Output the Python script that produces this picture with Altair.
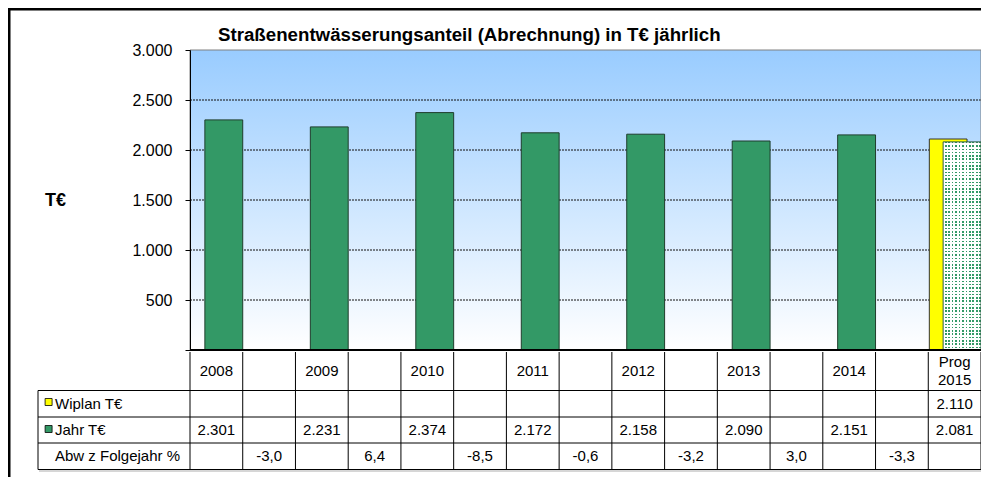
import altair as alt
import pandas as pd

# ---------------- data ----------------
title_text = "Straßenentwässerungsanteil (Abrechnung) in T€ jährlich"
y_title = "T€"
years = ["2008", "2009", "2010", "2011", "2012", "2013", "2014", "Prog\n2015"]
jahr = [2301, 2231, 2374, 2172, 2158, 2090, 2151, 2081]
wiplan = [None, None, None, None, None, None, None, 2110]
abw = [-3.0, 6.4, -8.5, -0.6, -3.2, 3.0, -3.3]
row_labels = ["Wiplan T€", "Jahr T€", "Abw z Folgejahr %"]
y_ticks = [0, 500, 1000, 1500, 2000, 2500, 3000]
grid_vals = [500, 1000, 1500, 2000, 2500]

# ---------------- layout / style ----------------
N_COLS = 2 * len(years) - 1
W, H = 791, 300
PAD_L, PAD_T = 182, 42
SVG_W, SVG_H = 973, 469
FONT = "Liberation Sans"
FS = 15
GREEN = "#339966"
YELLOW = "#FFFF00"
BAR_STROKE = "#1f3d2c"
ROW_Y = [354, 380, 406]
HEAD_Y = 321


def de_int(v):
    return f"{v:,}".replace(",", ".")


def de_dec(v):
    return f"{v:.1f}".replace(".", ",")


xs = alt.Scale(domain=[0, N_COLS], nice=False, zero=False)
ys = alt.Scale(domain=[0, 3000], nice=False)
yaxis = alt.Axis(
    values=y_ticks,
    labelExpr="datum.value == 0 ? '' : replace(format(datum.value, ','), ',', '.')",
    title=None, grid=False, domainColor="black", tickColor="black",
    tickSize=5, labelPadding=13, labelFont=FONT, labelFontSize=16,
    labelColor="black", zindex=1, domainWidth=1, tickWidth=1,
)


def X(f):
    return alt.X(f, scale=xs, axis=None)


def Y(f):
    return alt.Y(f, scale=ys, axis=yaxis)


one = pd.DataFrame({"a": [0]})

# background gradient
bg = alt.Chart(one).mark_rect(
    fill=alt.LinearGradient(
        gradient="linear",
        stops=[alt.GradientStop(color="#99CCFF", offset=0),
               alt.GradientStop(color="#FFFFFF", offset=1)],
        x1=0, x2=0, y1=0, y2=1,
    )
).encode(x=alt.value(0), x2=alt.value(W), y=alt.value(0), y2=alt.value(H))

grid = alt.Chart(pd.DataFrame({"value": grid_vals})).mark_rule(
    color="#111111", strokeDash=[2, 1], strokeWidth=1
).encode(y=Y("value:Q"))

border = alt.Chart(one).mark_rect(
    fillOpacity=0, stroke="#808080", strokeWidth=1
).encode(x=alt.value(0), x2=alt.value(W), y=alt.value(0), y2=alt.value(H))

# bars
n_act = len(years) - 1
act = pd.DataFrame({
    "x0": [2 * i + 0.282 for i in range(n_act)],
    "x1": [2 * i + 1.0 for i in range(n_act)],
    "value": jahr[:n_act],
    "base": [0] * n_act,
})
fc_col = 2 * (len(years) - 1)
fc = pd.DataFrame({"x0": [fc_col + 0.282], "x1": [fc_col + 1.0],
                   "value": [jahr[-1]], "base": [0]})
wp = pd.DataFrame({"x0": [fc_col + 0.02], "x1": [fc_col + 0.735],
                   "value": [wiplan[-1]], "base": [0]})

bars_act = alt.Chart(act).mark_rect(fill=GREEN, stroke=BAR_STROKE, strokeWidth=1).encode(
    x=X("x0:Q"), x2="x1:Q", y=Y("value:Q"), y2="base:Q")
bars_wp = alt.Chart(wp).mark_rect(fill=YELLOW, stroke="#333333", strokeWidth=1).encode(
    x=X("x0:Q"), x2="x1:Q", y=Y("value:Q"), y2="base:Q")

# dotted pattern from two stripe gradients
nv, nh = 11, 63
vstops = []
for k in range(nv):
    vstops += [alt.GradientStop(color="#FFFFFF", offset=k / nv),
               alt.GradientStop(color="#FFFFFF", offset=(k + 0.5) / nv),
               alt.GradientStop(color=GREEN, offset=(k + 0.5) / nv),
               alt.GradientStop(color=GREEN, offset=(k + 1) / nv)]
hstops = []
for k in range(nh):
    hstops += [alt.GradientStop(color="rgba(255,255,255,0)", offset=k / nh),
               alt.GradientStop(color="rgba(255,255,255,0)", offset=(k + 0.45) / nh),
               alt.GradientStop(color="#FFFFFF", offset=(k + 0.45) / nh),
               alt.GradientStop(color="#FFFFFF", offset=(k + 1) / nh)]
bars_fc1 = alt.Chart(fc).mark_rect(
    fill=alt.LinearGradient(gradient="linear", stops=vstops, x1=0, x2=1, y1=0, y2=0)
).encode(x=X("x0:Q"), x2="x1:Q", y=Y("value:Q"), y2="base:Q")
bars_fc2 = alt.Chart(fc).mark_rect(
    fill=alt.LinearGradient(gradient="linear", stops=hstops, x1=0, x2=0, y1=0, y2=1)
).encode(x=X("x0:Q"), x2="x1:Q", y=Y("value:Q"), y2="base:Q")
bars_fc3 = alt.Chart(fc).mark_rect(fillOpacity=0, stroke="#2d5f45", strokeWidth=1).encode(
    x=X("x0:Q"), x2="x1:Q", y=Y("value:Q"), y2="base:Q")

baseline = alt.Chart(pd.DataFrame({"value": [0]})).mark_rule(
    color="black", strokeWidth=2).encode(y=Y("value:Q"))

# ---------------- table ----------------
layers_tab = []
vlines = alt.Chart(pd.DataFrame({"b": list(range(N_COLS + 1))})).mark_rule(
    color="black", strokeWidth=1).encode(x=X("b:Q"), y=alt.value(302), y2=alt.value(419.5))
layers_tab.append(vlines)
layers_tab.append(alt.Chart(one).mark_rule(color="black", strokeWidth=1).encode(
    x=alt.value(-152), y=alt.value(340.5), y2=alt.value(419.5)))
for yy in [340.5, 367, 393, 419.5]:
    layers_tab.append(alt.Chart(one).mark_rule(color="black", strokeWidth=1).encode(
        x=alt.value(-152), x2=alt.value(W), y=alt.value(yy)))
layers_tab.append(alt.Chart(one).mark_rule(color="#c8c8c8", strokeWidth=1.5).encode(
    x=alt.value(-151), x2=alt.value(W), y=alt.value(421)))

txt = dict(font=FONT, fontSize=FS, color="black", baseline="middle", align="center")
head1 = pd.DataFrame({"xc": [2 * i + 0.5 for i, s in enumerate(years) if "\n" not in s],
                      "label": [s for s in years if "\n" not in s]})
head2 = pd.DataFrame({"xc": [2 * i + 0.5 for i, s in enumerate(years) if "\n" in s],
                      "label": [s for s in years if "\n" in s]})
layers_tab.append(alt.Chart(head1).mark_text(**txt).encode(
    x=X("xc:Q"), y=alt.value(HEAD_Y), text="label:N"))
layers_tab.append(alt.Chart(head2).mark_text(lineBreak="\n", lineHeight=17.5, **txt).encode(
    x=X("xc:Q"), y=alt.value(HEAD_Y - 8.75), text="label:N"))

wp_t = pd.DataFrame({"xc": [2 * i + 0.5 for i, v in enumerate(wiplan) if v is not None],
                     "label": [de_int(v) for v in wiplan if v is not None]})
layers_tab.append(alt.Chart(wp_t).mark_text(**txt).encode(
    x=X("xc:Q"), y=alt.value(ROW_Y[0]), text="label:N"))
jr_t = pd.DataFrame({"xc": [2 * i + 0.5 for i in range(len(jahr))],
                     "label": [de_int(v) for v in jahr]})
layers_tab.append(alt.Chart(jr_t).mark_text(**txt).encode(
    x=X("xc:Q"), y=alt.value(ROW_Y[1]), text="label:N"))
ab_t = pd.DataFrame({"xc": [2 * i + 1.5 for i in range(len(abw))],
                     "label": [de_dec(v) for v in abw]})
layers_tab.append(alt.Chart(ab_t).mark_text(**txt).encode(
    x=X("xc:Q"), y=alt.value(ROW_Y[2]), text="label:N"))

for lab, yy in zip(row_labels, ROW_Y):
    layers_tab.append(alt.Chart(pd.DataFrame({"t": [lab]})).mark_text(
        font=FONT, fontSize=FS, color="black", baseline="middle", align="left").encode(
        x=alt.value(-135), y=alt.value(yy), text="t:N"))
for col, yy in [(YELLOW, 352), (GREEN, 379)]:
    layers_tab.append(alt.Chart(one).mark_square(
        size=49, fill=col, stroke="black", strokeWidth=0.8, opacity=1, fillOpacity=1).encode(
        x=alt.value(-141.4), y=alt.value(yy)))

# ---------------- frame & titles ----------------
frame_l = alt.Chart(one).mark_rule(color="black", strokeWidth=2.5).encode(
    x=alt.value(-180.75), y=alt.value(-42), y2=alt.value(427))
frame_t = alt.Chart(one).mark_rule(color="black", strokeWidth=2.5).encode(
    x=alt.value(-182), x2=alt.value(W), y=alt.value(-40.75))
title = alt.Chart(pd.DataFrame({"t": [title_text]})).mark_text(
    font=FONT, fontSize=18.7, fontWeight="bold", color="black", align="left",
    baseline="alphabetic").encode(x=alt.value(28), y=alt.value(-9), text="t:N")
ytitle = alt.Chart(pd.DataFrame({"t": [y_title]})).mark_text(
    font=FONT, fontSize=18, fontWeight="bold", color="black", align="left",
    baseline="middle").encode(x=alt.value(-145), y=alt.value(151), text="t:N")

chart = alt.layer(
    bg, grid, border, bars_wp, bars_fc1, bars_fc2, bars_fc3, bars_act, baseline,
    *layers_tab, frame_l, frame_t, title, ytitle,
).properties(
    width=W, height=H, background="white",
    autosize=alt.AutoSizeParams(type="none"),
    padding={"left": PAD_L, "top": PAD_T, "right": SVG_W - PAD_L - W,
             "bottom": SVG_H - PAD_T - H},
).configure_view(stroke=None)

chart.save("out.html", embed_options={"renderer": "svg", "actions": False})
